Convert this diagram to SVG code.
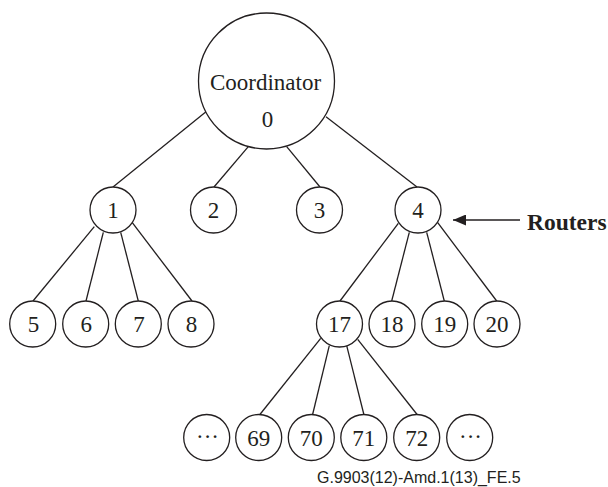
<svg xmlns="http://www.w3.org/2000/svg" width="608" height="487" viewBox="0 0 608 487">
<style>
  .n { fill: #ffffff; stroke: #231f20; stroke-width: 1.3; }
  .t { font-family: "Liberation Serif", "Times New Roman", serif; font-size: 23px; fill: #231f20; text-anchor: middle; }
  .e { stroke: #231f20; stroke-width: 1.3; fill: none; }
  .b { font-family: "Liberation Serif", "Times New Roman", serif; font-size: 23.5px; font-weight: bold; fill: #231f20; }
  .f { font-family: "Liberation Sans", Arial, sans-serif; font-size: 16px; fill: #231f20; }
</style>
<defs>
  <marker id="ah" markerWidth="14" markerHeight="11" refX="13" refY="5.5" orient="auto" markerUnits="userSpaceOnUse">
    <path d="M0,0 L13,5.5 L0,11 Z" fill="#231f20"/>
  </marker>
</defs>
<rect width="608" height="487" fill="#ffffff"/>
<g id="connectors">
  <line class="e" x1="206" y1="111.7" x2="113" y2="187"/>
  <line class="e" x1="248.3" y1="146.7" x2="214" y2="187"/>
  <line class="e" x1="286.7" y1="146.7" x2="320" y2="187"/>
  <line class="e" x1="326" y1="116.7" x2="417" y2="187"/>
  <line class="e" x1="94.3" y1="226.7" x2="33" y2="301"/>
  <line class="e" x1="103.3" y1="232.3" x2="86" y2="301"/>
  <line class="e" x1="120.7" y1="232.3" x2="138.3" y2="301"/>
  <line class="e" x1="132.3" y1="222.7" x2="192" y2="301"/>
  <line class="e" x1="398.3" y1="223.3" x2="340" y2="301"/>
  <line class="e" x1="409.3" y1="232.3" x2="391.7" y2="301"/>
  <line class="e" x1="426.7" y1="232.3" x2="444.3" y2="301"/>
  <line class="e" x1="437.7" y1="222.7" x2="496.7" y2="301"/>
  <line class="e" x1="320.7" y1="338.3" x2="259.5" y2="415"/>
  <line class="e" x1="329.3" y1="345.7" x2="312.5" y2="415"/>
  <line class="e" x1="346.7" y1="345.7" x2="364" y2="415"/>
  <line class="e" x1="357.7" y1="339.3" x2="417.5" y2="415"/>
  <line class="e" x1="520" y1="220" x2="453" y2="220" marker-end="url(#ah)"/>
</g>
<g id="node-0">
  <circle class="n" cx="266.5" cy="81" r="68"/>
  <text class="t" x="265.5" y="90">Coordinator</text>
  <text class="t" x="267.5" y="127">0</text>
</g>
<g id="node-1"><circle class="n" cx="113" cy="210" r="23"/><text class="t" x="113" y="218">1</text></g>
<g id="node-2"><circle class="n" cx="213.5" cy="210" r="23"/><text class="t" x="213.5" y="218">2</text></g>
<g id="node-3"><circle class="n" cx="319.5" cy="210" r="23"/><text class="t" x="319.5" y="218">3</text></g>
<g id="node-4"><circle class="n" cx="418" cy="210" r="23"/><text class="t" x="418" y="218">4</text></g>
<g id="node-5"><circle class="n" cx="32.7" cy="324" r="23"/><text class="t" x="33.5" y="332">5</text></g>
<g id="node-6"><circle class="n" cx="85.7" cy="324" r="23"/><text class="t" x="86.2" y="332">6</text></g>
<g id="node-7"><circle class="n" cx="138.3" cy="324" r="23"/><text class="t" x="139" y="332">7</text></g>
<g id="node-8"><circle class="n" cx="191" cy="324" r="23"/><text class="t" x="191.5" y="332">8</text></g>
<g id="node-17"><circle class="n" cx="339.5" cy="324" r="23"/><text class="t" x="339.5" y="332">17</text></g>
<g id="node-18"><circle class="n" cx="392" cy="324" r="23"/><text class="t" x="392" y="332">18</text></g>
<g id="node-19"><circle class="n" cx="444.7" cy="324" r="23"/><text class="t" x="444.7" y="332">19</text></g>
<g id="node-20"><circle class="n" cx="497" cy="324" r="23"/><text class="t" x="497" y="332">20</text></g>
<g id="node-more-left"><circle class="n" cx="206.7" cy="437.5" r="23"/><text class="t" x="207.5" y="444">···</text></g>
<g id="node-69"><circle class="n" cx="258.7" cy="437.5" r="23"/><text class="t" x="258.7" y="445.5">69</text></g>
<g id="node-70"><circle class="n" cx="311.3" cy="437.5" r="23"/><text class="t" x="311.3" y="445.5">70</text></g>
<g id="node-71"><circle class="n" cx="363.8" cy="437.5" r="23"/><text class="t" x="363.8" y="445.5">71</text></g>
<g id="node-72"><circle class="n" cx="416.7" cy="437.5" r="23"/><text class="t" x="416.7" y="445.5">72</text></g>
<g id="node-more-right"><circle class="n" cx="469.7" cy="437.5" r="23"/><text class="t" x="470.5" y="444">···</text></g>
<g id="label-routers"><text class="b" x="527" y="230">Routers</text></g>
<g id="caption"><text class="f" x="317" y="483">G.9903(12)-Amd.1(13)_FE.5</text></g>
</svg>
